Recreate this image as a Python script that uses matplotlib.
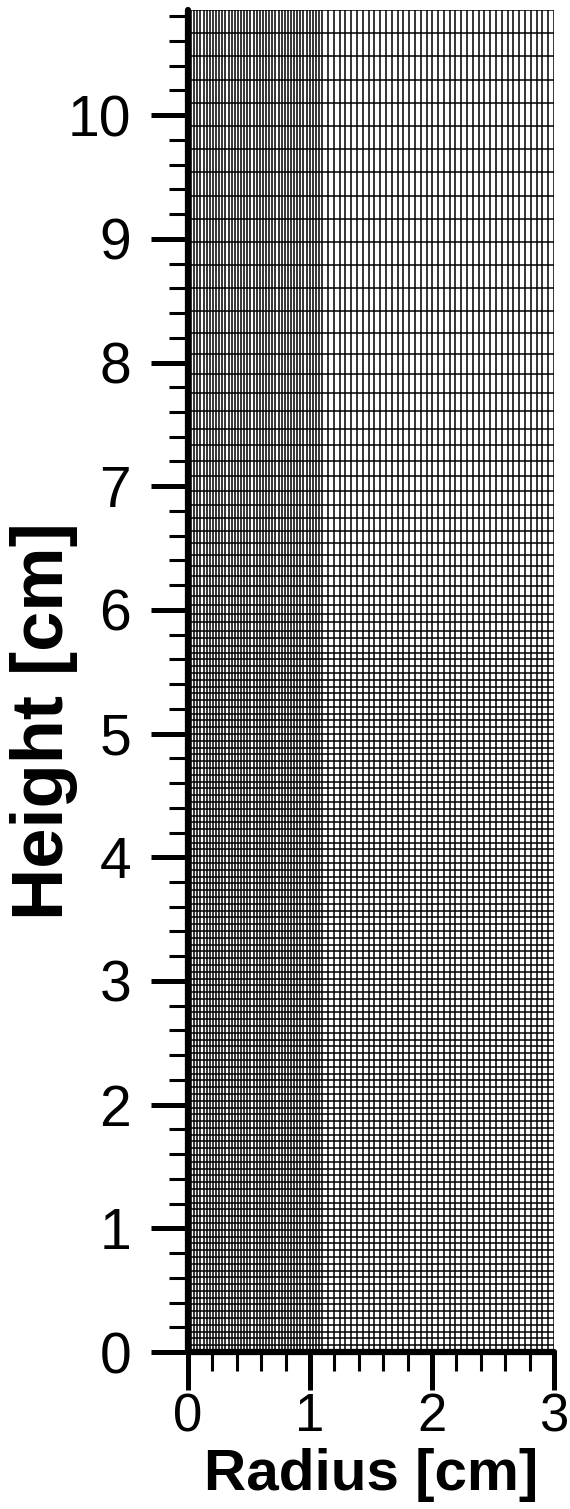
# 网格图：径向-轴向计算网格 (Radius / Height)
import numpy as np
from matplotlib import pyplot as plt
from matplotlib.ticker import MultipleLocator

plt.rcParams['font.family'] = ['Liberation Sans', 'DejaVu Sans']

# 网格分段：端点、每段单元数、每段末/首单元尺寸比
x_breaks = [0.0, 1.1, 3.0]
x_cells = [43, 40]
x_grading = [1.0, 1.0]

y_breaks = [0.0, 5.6, 8.6, 10.85]
y_cells = [102, 28, 12]
y_grading = [1.0, 3.4, 1.0]

x_ticks = [0, 1, 2, 3]
y_ticks = [0, 1, 2, 3, 4, 5, 6, 7, 8, 9, 10]


def seg_nodes(breaks, cells, grading):
    nodes = [breaks[0]]
    for a, b, n, g in zip(breaks[:-1], breaks[1:], cells, grading):
        r = g ** (1.0 / max(n - 1, 1))
        w = r ** np.arange(n)
        w = np.cumsum(w) / w.sum()
        nodes.extend(a + (b - a) * w)
    return np.array(nodes)


xn = seg_nodes(x_breaks, x_cells, x_grading)
yn = seg_nodes(y_breaks, y_cells, y_grading)

fig = plt.figure(figsize=(5.7, 15.09), dpi=100)
ax = fig.add_axes([188 / 570, 157 / 1509, 366 / 570, 1342 / 1509])

# 网格线
ax.vlines(xn, y_breaks[0], y_breaks[-1], color='k', linewidth=1.1)
ax.hlines(yn, x_breaks[0], x_breaks[-1], color='k', linewidth=1.1)

ax.set_xlim(x_breaks[0], x_breaks[-1])
ax.set_ylim(y_breaks[0], y_breaks[-1])

# 坐标轴
for s in ['top', 'right']:
    ax.spines[s].set_visible(False)
for s in ['left', 'bottom']:
    ax.spines[s].set_linewidth(4.5)
    ax.spines[s].set_capstyle('round')

ax.set_xticks(x_ticks)
ax.set_yticks(y_ticks)
ax.xaxis.set_minor_locator(MultipleLocator(0.2))
ax.yaxis.set_minor_locator(MultipleLocator(0.2))
ax.tick_params(which='major', length=27, width=3.6)
ax.tick_params(which='minor', length=14, width=2.2)
ax.tick_params(axis='x', which='major', labelsize=38, pad=2)
ax.tick_params(axis='y', which='major', labelsize=41, pad=14)

ax.set_xlabel('Radius [cm]', fontsize=42, fontweight='bold', va='baseline')
ax.set_ylabel('Height [cm]', fontsize=52, fontweight='bold')
ax.xaxis.set_label_coords(0.5, -0.103)
ax.yaxis.set_label_coords(-0.30, 0.47)

plt.savefig('out.png', dpi=100)
